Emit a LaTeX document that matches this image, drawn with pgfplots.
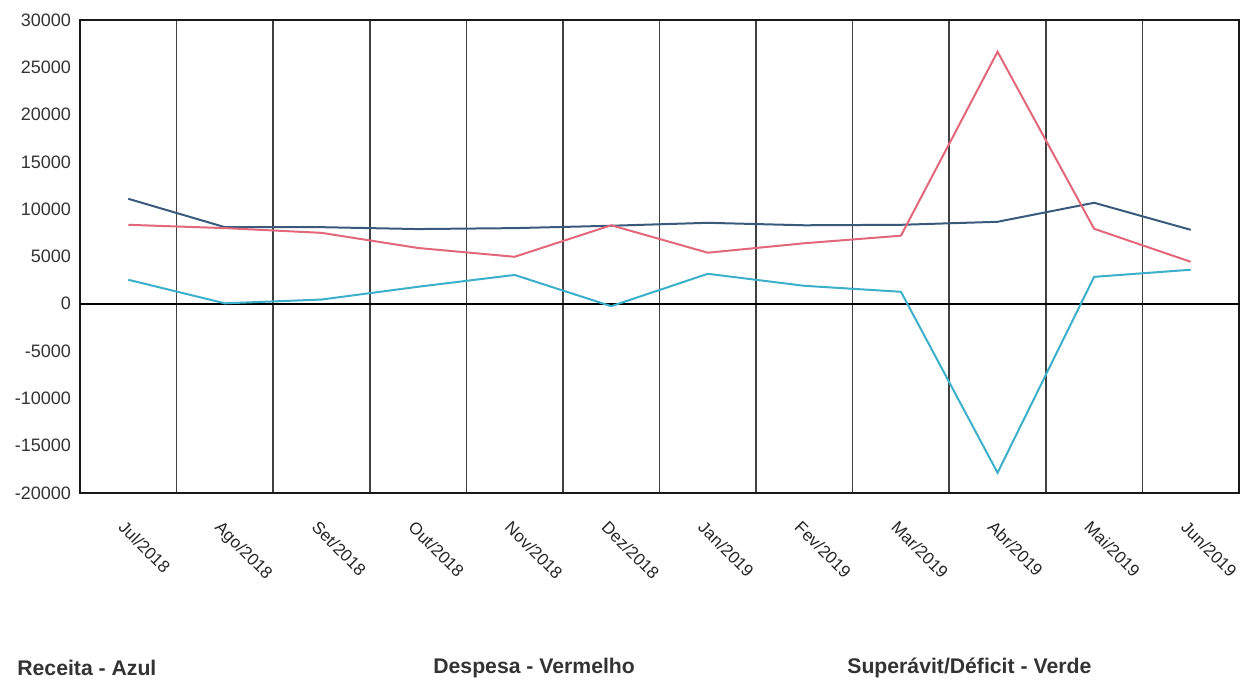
\documentclass[border=0pt]{standalone}
\usepackage{pgfplots}
\pgfplotsset{compat=1.18}
\usepackage{fontspec}
\setmainfont{Liberation Sans}
\definecolor{receita}{HTML}{3A5A7C}
\definecolor{despesa}{HTML}{E2677A}
\definecolor{saldo}{HTML}{3CB0CB}
\begin{document}
\begin{tikzpicture}
\useasboundingbox (-40pt,-93.5pt) rectangle (582pt,246.5pt);
\begin{axis}[
    at={(0,0)}, anchor=south west,
    scale only axis,
    width=579.5pt, height=236.5pt,
    xmin=0, xmax=12,
    ymin=-20000, ymax=30000,
    ytick={-20000,-15000,...,30000},
    scaled y ticks=false,
    xtick={0.5,1.5,...,11.5},
    xticklabels={Jul/2018,Ago/2018,Set/2018,Out/2018,Nov/2018,Dez/2018,Jan/2019,Fev/2019,Mar/2019,Abr/2019,Mai/2019,Jun/2019},
    minor xtick={1,2,...,11},
    xminorgrids=true,
    minor grid style={black!75, line width=0.8pt},
    major tick length=0pt, minor tick length=0pt,
    axis line style={black!90, line width=1pt},
    extra y ticks={0},
    extra y tick labels={},
    extra y tick style={grid=major, major grid style={black, line width=1.2pt}},
    /pgf/number format/assume math mode=true,
    /pgf/number format/1000 sep={},
    yticklabel style={font=\fontsize{9}{10}\selectfont, text=black!80, xshift=-1pt},
    xticklabel style={font=\fontsize{8.5}{10}\selectfont, text=black!85, rotate=-45, anchor=north west, xshift=5.3pt, yshift=-6.7pt},
    clip=false,
]
\addplot[receita, line width=1pt] coordinates {
    (0.5,11100) (1.5,8100) (2.5,8100) (3.5,7900) (4.5,8000) (5.5,8250)
    (6.5,8560) (7.5,8300) (8.5,8350) (9.5,8670) (10.5,10680) (11.5,7820)
};
\addplot[despesa, line width=1pt] coordinates {
    (0.5,8350) (1.5,8000) (2.5,7500) (3.5,5900) (4.5,4970) (5.5,8300)
    (6.5,5400) (7.5,6400) (8.5,7200) (9.5,26640) (10.5,7930) (11.5,4440)
};
\addplot[saldo, line width=1pt] coordinates {
    (0.5,2540) (1.5,50) (2.5,450) (3.5,1800) (4.5,3050) (5.5,-250)
    (6.5,3170) (7.5,1900) (8.5,1270) (9.5,-17860) (10.5,2850) (11.5,3600)
};
\end{axis}
\node[anchor=west, inner sep=0pt, font=\bfseries\fontsize{10.6}{12}\selectfont, text=black!80] at (-31.5pt,-87.5pt) {Receita - Azul};
\node[anchor=west, inner sep=0pt, font=\bfseries\fontsize{10.6}{12}\selectfont, text=black!80] at (176.5pt,-87.5pt) {Despesa - Vermelho};
\node[anchor=west, inner sep=0pt, font=\bfseries\fontsize{10.6}{12}\selectfont, text=black!80] at (383.5pt,-87.5pt) {Superávit/Déficit - Verde};
\end{tikzpicture}
\end{document}
